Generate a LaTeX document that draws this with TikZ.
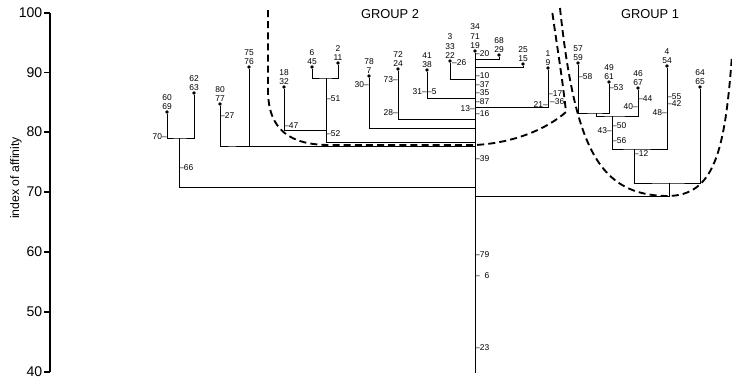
\documentclass[tikz,border=0pt]{standalone}
\usepackage{fontspec}
\setmainfont{Liberation Sans}
\newcommand{\tagfont}{\fontsize{7.2}{8}\selectfont}

\begin{document}
\begin{tikzpicture}[
    x=0.03cm, y=-0.03cm,
    leaf/.style={circle, fill, inner sep=0pt, minimum size=3.2pt, label distance=2.5pt},
    every label/.style={font=\tagfont, align=center, inner sep=0pt},
    tagr/.style={anchor=west, font=\tagfont, inner sep=0pt},
    tagl/.style={anchor=east, font=\tagfont, inner sep=0pt},
    link/.style={line width=0.75pt},
    axis/.style={line width=0.9pt},
    axnum/.style={anchor=east, font=\fontsize{12}{12}\selectfont, inner sep=1pt},
    grp/.style={line width=1.6pt, dash pattern=on 6pt off 3.5pt},
    grplbl/.style={font=\fontsize{11}{12}\selectfont}
  ]
  \useasboundingbox (0,0) rectangle (732,380);

  % axis
  \coordinate (a100) at (50,13);
  \coordinate (a40) at (50,372);
  \draw[axis] (a100) -- (a40);
  \draw[axis] (a100) -- ++(-6,0) node[axnum] (v100) {100};
  \draw[axis] (50,72.5) -- ++(-6,0) node[axnum] (v90) {90};
  \draw[axis] (50,132) -- ++(-6,0) node[axnum] (v80) {80};
  \draw[axis] (50,192) -- ++(-6,0) node[axnum] (v70) {70};
  \draw[axis] (50,252) -- ++(-6,0) node[axnum] (v60) {60};
  \draw[axis] (50,312) -- ++(-6,0) node[axnum] (v50) {50};
  \draw[axis] (a40) -- ++(-6,0) node[axnum] (v40) {40};
  \node[rotate=90, font=\fontsize{10.5}{12}\selectfont] (ylab) at (16,178) {index of affinity};

  % group boundaries
  \draw[grp] (268,10) -- (268,90) .. controls (268,130) and (290,145) .. (330,145)
    -- (475,145) .. controls (515,143) and (548,128) .. (566,112)
    .. controls (562,75) and (556,40) .. (552,10);
  \draw[grp] (560,8) .. controls (575,150) and (600,195) .. (667,196)
    .. controls (715,196) and (725,150) .. (732,55);
  \node[grplbl] (g2) at (390,14) {GROUP 2};
  \node[grplbl] (g1) at (650,14) {GROUP 1};

  % leaves
  \node[leaf, label={above:{60\\69}}] (d6069) at (167,112) {};
  \node[leaf, label={above:{62\\63}}] (d6263) at (194,93) {};
  \node[leaf, label={above:{80\\77}}] (d8077) at (220,104) {};
  \node[leaf, label={above:{75\\76}}] (d7576) at (249,67) {};
  \node[leaf, label={above:{18\\32}}] (d1832) at (284,87) {};
  \node[leaf, label={above:{6\\45}}] (d0645) at (312,67) {};
  \node[leaf, label={above:{2\\11}}] (d0211) at (338,63) {};
  \node[leaf, label={above:{78\\7}}] (d7807) at (369,76) {};
  \node[leaf, label={above:{72\\24}}] (d7224) at (398,69) {};
  \node[leaf, label={above:{41\\38}}] (d4138) at (427,70) {};
  \node[leaf, label={above:{3\\33\\22}}] (d0322) at (450,61) {};
  \node[leaf, label={above:{34\\71\\19}}] (d3471) at (475,51) {};
  \node[leaf, label={above:{68\\29}}] (d6829) at (499,55) {};
  \node[leaf, label={above:{25\\15}}] (d2515) at (523,64) {};
  \node[leaf, label={above:{1\\9}}] (d0109) at (548,68) {};
  \node[leaf, label={above:{57\\59}}] (d5759) at (578,63) {};
  \node[leaf, label={above:{49\\61}}] (d4961) at (609,82) {};
  \node[leaf, label={above:{46\\67}}] (d4667) at (638,88) {};
  \node[leaf, label={above:{4\\54}}] (d0454) at (667,66) {};
  \node[leaf, label={above:{64\\65}}] (d6465) at (700,87) {};

  % join points
  \coordinate (tb) at (475,373);
  \coordinate (t20) at (475,59);
  \coordinate (t15) at (475,67);
  \coordinate (t26) at (475,79);
  \coordinate (t05) at (475,98);
  \coordinate (t21) at (475,107);
  \coordinate (t28) at (475,119);
  \coordinate (t30) at (475,128);
  \coordinate (t52) at (475,142);
  \coordinate (t27) at (475,146);
  \coordinate (t66) at (475,187);
  \coordinate (t01) at (475,196);
  \coordinate (k70) at (179,138);
  \coordinate (k27) at (236,146);
  \coordinate (k51) at (326,78);
  \coordinate (k47) at (326,130);
  \coordinate (k58) at (596,113);
  \coordinate (k40) at (612,116);
  \coordinate (k12) at (634,149);
  \coordinate (k64) at (669,183);

  % tree
  \draw[link] (d3471) -- (tb);
  \draw[link] (d6829) |- (t20);
  \draw[link] (d2515) |- (t15);
  \draw[link] (d0322) |- (t26);
  \draw[link] (d4138) |- (t05);
  \draw[link] (d0109) |- (t21);
  \draw[link] (d7224) |- (t28);
  \draw[link] (d7807) |- (t30);
  \draw[link] (d0645) |- (k51) -| (d0211);
  \draw[link] (d1832) |- (k47);
  \draw[link] (k51) |- (t52);
  \draw[link] (d8077) |- (k27) -| (d7576);
  \draw[link] (k27) -- (t27);
  \draw[link] (d6069) |- (k70) -| (d6263);
  \draw[link] (k70) |- (t66);
  \draw[link] (d5759) |- (k58) -| (d4961);
  \draw[link] (k58) |- (k40) -| (d4667);
  \draw[link] (k40) |- (k12) -| (d0454);
  \draw[link] (k12) |- (k64) -| (d6465);
  \draw[link] (k64) |- (t01);

  % items joining along the lines
  \node[tagr] (n20) at (475,54) {\textendash20};
  \node[tagr] (n10) at (475,76) {\textendash10};
  \node[tagr] (n37) at (475,85) {\textendash37};
  \node[tagr] (n35) at (475,93) {\textendash35};
  \node[tagr] (n87) at (475,102) {\textendash87};
  \node[tagl] (n13) at (475,109) {13\textendash};
  \node[tagr] (n16) at (475,114) {\textendash16};
  \node[tagr] (n39) at (475,159) {\textendash39};
  \node[tagr] (n79) at (475,255) {\textendash79};
  \node[tagr] (n6) at (475,276) {\textendash\phantom{0}6};
  \node[tagr] (n23) at (475,348) {\textendash23};
  \node[tagr] (n26) at (452,63) {\textendash26};
  \node[tagl] (n31) at (427,92) {31\textendash};
  \node[tagr] (n5) at (427,92) {\textendash5};
  \node[tagl] (n73) at (398,80) {73\textendash};
  \node[tagl] (n28) at (398,113) {28\textendash};
  \node[tagl] (n30) at (369,85) {30\textendash};
  \node[tagr] (n51) at (326,99) {\textendash51};
  \node[tagr] (n52) at (326,134) {\textendash52};
  \node[tagr] (n47) at (284,126) {\textendash47};
  \node[tagr] (n27) at (220,116) {\textendash27};
  \node[tagl] (n70) at (167,137) {70\textendash};
  \node[tagr] (n66) at (179,168) {\textendash66};
  \node[tagl] (n21) at (548,105) {21\textendash};
  \node[tagr] (n17) at (548,93.5) {\textendash17};
  \node[tagr] (n36) at (550,101.5) {\textendash36};
  \node[tagr] (n58) at (578,77) {\textendash58};
  \node[tagr] (n53) at (609,88) {\textendash53};
  \node[tagr] (n44) at (638,99) {\textendash44};
  \node[tagl] (n40) at (638,107) {40\textendash};
  \node[tagr] (n50) at (612,126) {\textendash50};
  \node[tagl] (n43) at (612,131) {43\textendash};
  \node[tagr] (n56) at (612,141) {\textendash56};
  \node[tagr] (n55) at (667,97) {\textendash55};
  \node[tagr] (n42) at (667,104) {\textendash42};
  \node[tagl] (n48) at (667,113) {48\textendash};
  \node[tagr] (n12) at (634,154) {\textendash12};
\end{tikzpicture}
\end{document}
